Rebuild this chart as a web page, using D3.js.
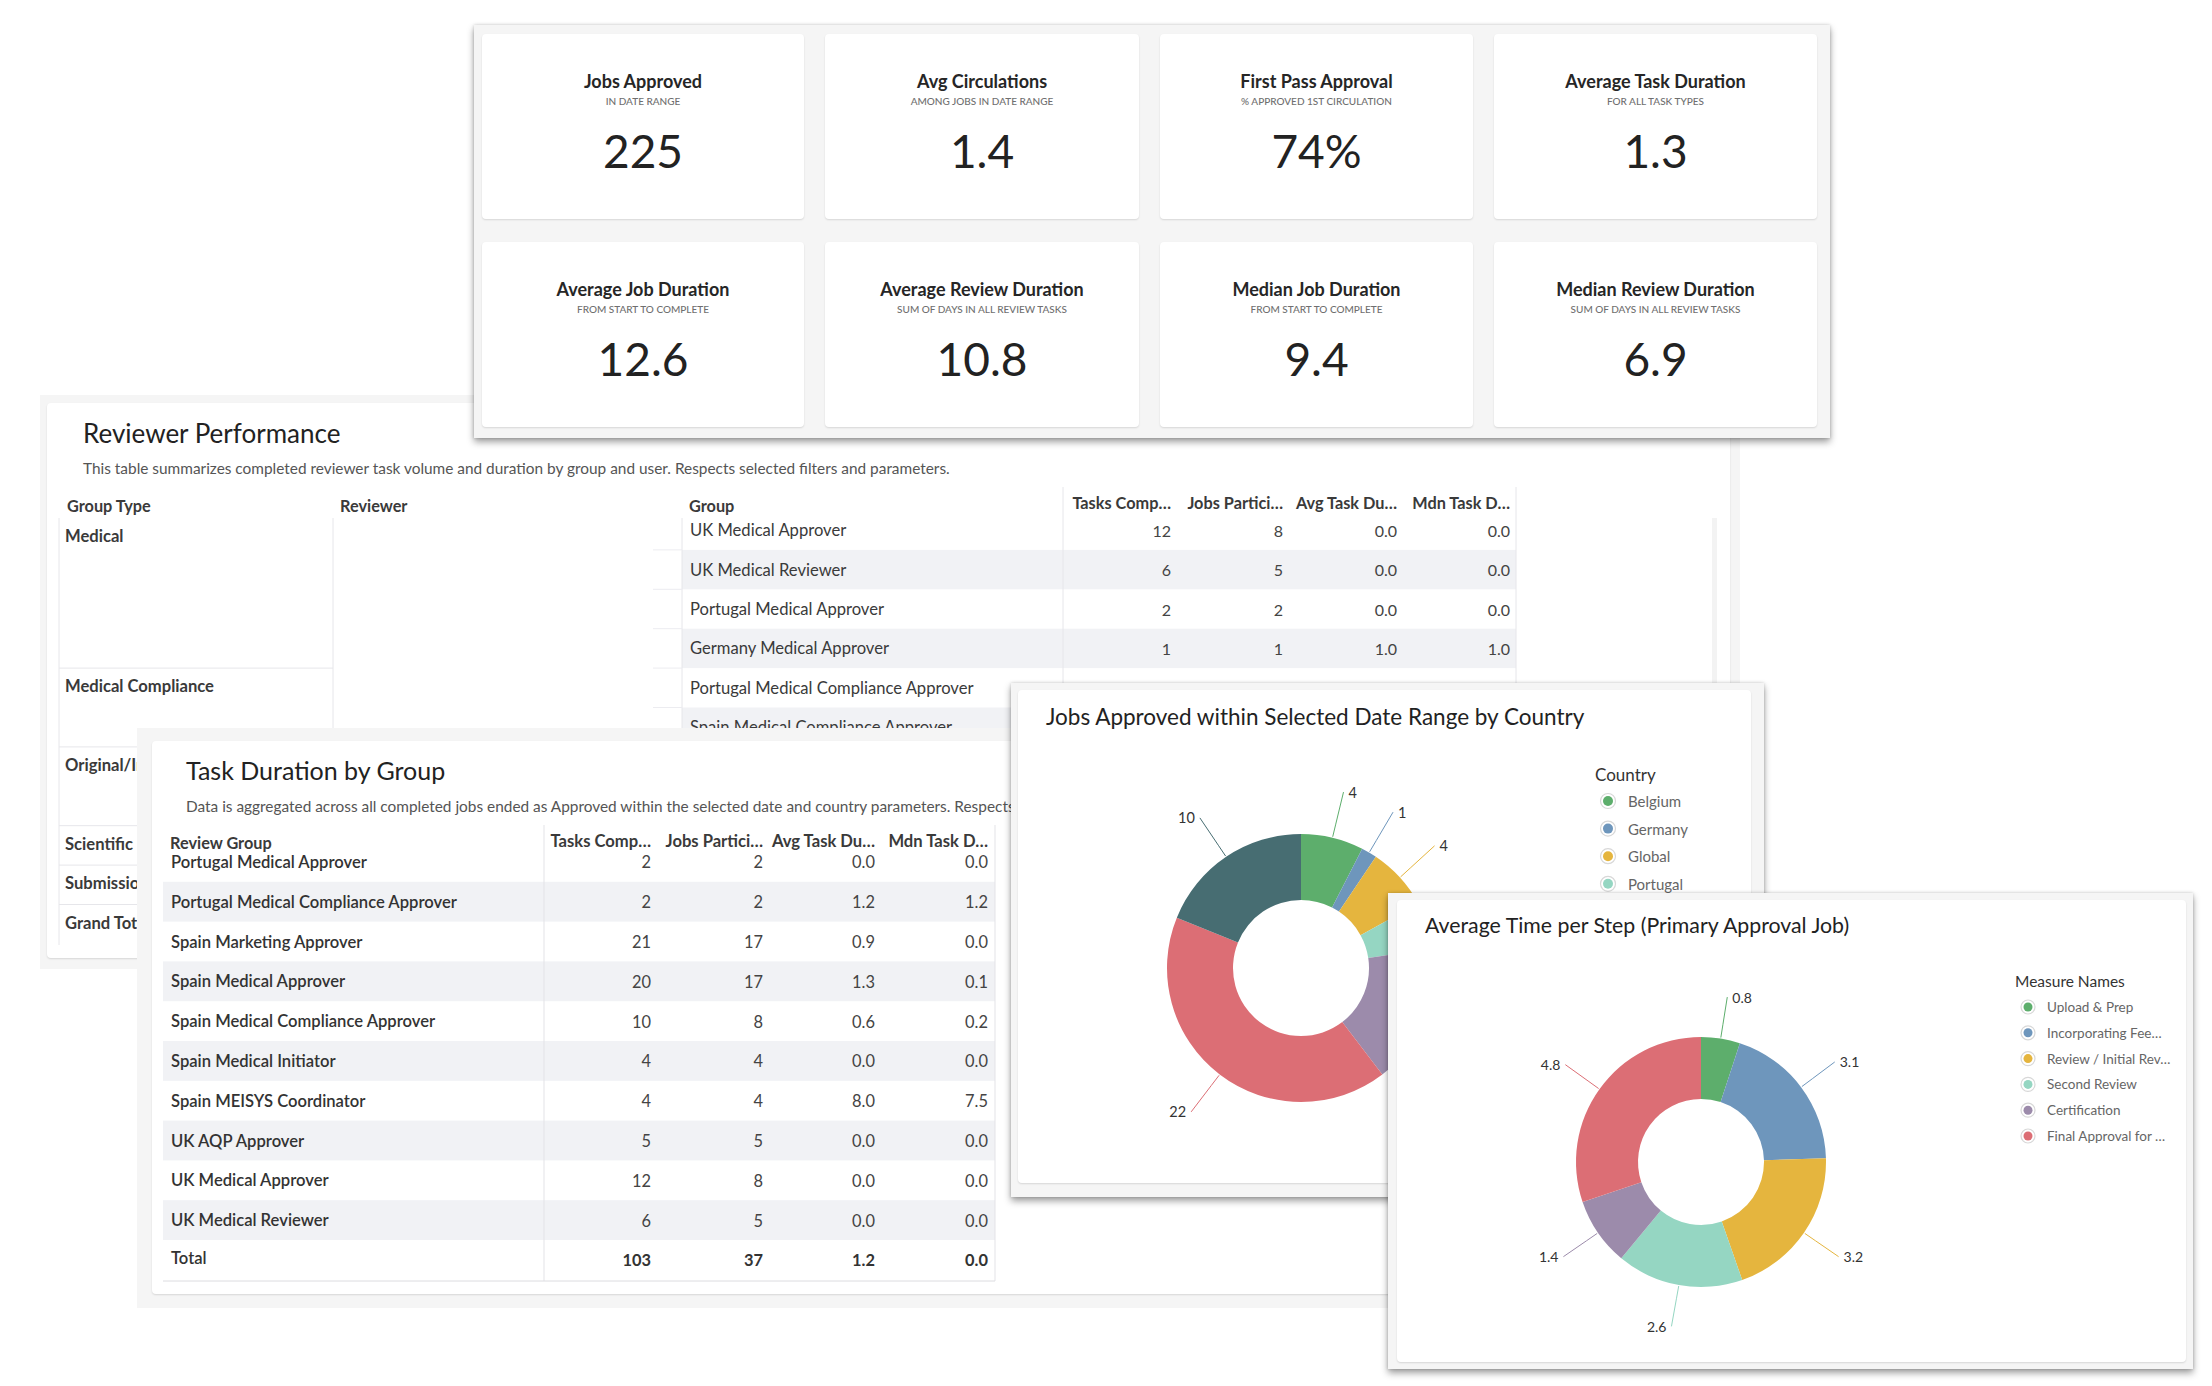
<!DOCTYPE html>
<html><head><meta charset="utf-8">
<script src="https://cdn.jsdelivr.net/npm/d3@7"></script>
<style>
body{margin:0;background:#fff;width:2212px;height:1386px;overflow:hidden;font-family:Lato,'Open Sans',sans-serif;}
.panel{position:absolute;background:#f5f5f5;overflow:hidden;}
.card{position:absolute;background:#fff;border-radius:4px;box-shadow:0 1px 2px rgba(0,0,0,0.13);}
svg.layer{position:absolute;}
svg text{font-family:Lato,'Open Sans',sans-serif;}
</style></head><body>
<script>
// ---------- DATA ----------
const kpiTitles = ["Jobs Approved","Avg Circulations","First Pass Approval","Average Task Duration","Average Job Duration","Average Review Duration","Median Job Duration","Median Review Duration"];
const kpiSubtitles = ["IN DATE RANGE","AMONG JOBS IN DATE RANGE","% APPROVED 1ST CIRCULATION","FOR ALL TASK TYPES","FROM START TO COMPLETE","SUM OF DAYS IN ALL REVIEW TASKS","FROM START TO COMPLETE","SUM OF DAYS IN ALL REVIEW TASKS"];
const kpiValues = [225, 1.4, 0.74, 1.3, 12.6, 10.8, 9.4, 6.9];
const kpiFormats = ["d", ".1f", ".0%", ".1f", ".1f", ".1f", ".1f", ".1f"];

const rpTitle = "Reviewer Performance";
const rpSubtitle = "This table summarizes completed reviewer task volume and duration by group and user. Respects selected filters and parameters.";
const rpDimHeaders = ["Group Type", "Reviewer", "Group"];
const measureHeaders = ["Tasks Comp…", "Jobs Partici…", "Avg Task Du…", "Mdn Task D…"];
const rpGroupTypes = ["Medical", "Medical Compliance", "Original/Internal", "Scientific", "Submission", "Grand Total"];
const rpGroupTypeRows = [4, 2, 2, 1, 1, 1];
const rpGroups = ["UK Medical Approver", "UK Medical Reviewer", "Portugal Medical Approver", "Germany Medical Approver", "Portugal Medical Compliance Approver", "Spain Medical Compliance Approver"];
const rpTasks = [12, 6, 2, 1, 2, 10];
const rpJobs = [8, 5, 2, 1, 2, 8];
const rpAvg = [0.0, 0.0, 0.0, 1.0, 1.2, 0.6];
const rpMdn = [0.0, 0.0, 0.0, 1.0, 1.2, 0.2];

const tdTitle = "Task Duration by Group";
const tdSubtitle = "Data is aggregated across all completed jobs ended as Approved within the selected date and country parameters. Respects";
const tdGroups = ["Portugal Medical Approver", "Portugal Medical Compliance Approver", "Spain Marketing Approver", "Spain Medical Approver", "Spain Medical Compliance Approver", "Spain Medical Initiator", "Spain MEISYS Coordinator", "UK AQP Approver", "UK Medical Approver", "UK Medical Reviewer"];
const tdTasks = [2, 2, 21, 20, 10, 4, 4, 5, 12, 6];
const tdJobs = [2, 2, 17, 17, 8, 4, 4, 5, 8, 5];
const tdAvg = [0.0, 1.2, 0.9, 1.3, 0.6, 0.0, 8.0, 0.0, 0.0, 0.0];
const tdMdn = [0.0, 1.2, 0.0, 0.1, 0.2, 0.0, 7.5, 0.0, 0.0, 0.0];
const tdTotals = [103, 37, 1.2, 0.0];

const jobsTitle = "Jobs Approved within Selected Date Range by Country";
const countries = ["Belgium", "Germany", "Global", "Portugal", "Romania", "Spain", "UK"];
const countryJobs = [4, 1, 4, 3, 9, 22, 10];

const stepTitle = "Average Time per Step (Primary Approval Job)";
const steps = ["Upload & Prep", "Incorporating Fee…", "Review / Initial Rev…", "Second Review", "Certification", "Final Approval for …"];
const stepDays = [0.8, 3.1, 3.2, 2.6, 1.4, 4.8];

const palette = ["#5dae6c", "#6e96bc", "#e5b53e", "#95d6c2", "#9c8bab", "#dc6e75", "#476d72"];

// ---------- LAYOUT ----------
const W = 2212, H = 1386;
const SHADOW = "0 4px 7px rgba(0,0,0,0.38), 0 0 3px rgba(0,0,0,0.18)";
const P_RP = [40, 395, 1740, 969], P_KPI = [474, 25, 1830, 438], P_TD = [137, 728, 1420, 1308],
      P_JOBS = [1011, 683, 1764, 1197], P_AVG = [1388, 893, 2193, 1369];
const inside = (x, y, r) => x >= r[0] && x <= r[2] && y >= r[1] && y <= r[3];
const covered = (x, y, list) => list.some(r => inside(x, y, r));

function panel(rect, cards, shadow) {
  const [x0, y0, x1, y1] = rect;
  const p = d3.select("body").append("div").attr("class", "panel")
    .style("left", x0 + "px").style("top", y0 + "px")
    .style("width", (x1 - x0) + "px").style("height", (y1 - y0) + "px")
    .style("box-shadow", shadow || "none");
  cards.forEach(c => {
    p.append("div").attr("class", "card")
      .style("left", (c[0] - x0) + "px").style("top", (c[1] - y0) + "px")
      .style("width", (c[2] - c[0]) + "px").style("height", (c[3] - c[1]) + "px");
  });
  return p.append("svg").attr("class", "layer").attr("width", W).attr("height", H)
    .style("left", (-x0) + "px").style("top", (-y0) + "px");
}
function txt(svg, x, y, s, size, opts = {}) {
  return svg.append("text").attr("x", x).attr("y", y).text(s)
    .attr("font-size", size).attr("fill", opts.fill || "#333")
    .attr("font-weight", opts.weight || 400)
    .attr("text-anchor", opts.anchor || "start")
    .attr("dominant-baseline", opts.baseline || "auto");
}
const f1 = d3.format(".1f");

// ---------- REVIEWER PERFORMANCE (back) ----------
{
  const svg = panel(P_RP, [[47, 403, 1730, 958]]);
  txt(svg, 83, 443, rpTitle, 26, {fill: "#222"});
  txt(svg, 83, 474, rpSubtitle, 15.4, {fill: "#555"});
  const dimX = [67, 340, 689];
  rpDimHeaders.forEach((h, i) => txt(svg, dimX[i], 512, h, 16.3, {weight: 700, fill: "#3a3a3a"}));
  const mx = [1171, 1283, 1397, 1510];
  measureHeaders.forEach((h, i) => txt(svg, mx[i], 509, h, 16.3, {weight: 700, fill: "#3a3a3a", anchor: "end"}));

  const y = d3.scaleBand().domain(d3.range(11)).range([510.5, 510.5 + 39.4 * 11]);
  svg.selectAll("rect.band").data(rpGroups).join("rect")
    .attr("x", 682).attr("width", 1516 - 682)
    .attr("y", (d, i) => y(i)).attr("height", y.bandwidth())
    .attr("fill", (d, i) => i % 2 ? "#f1f2f5" : "none");
  const line = (x1, y1, x2, y2, c) => svg.append("line").attr("x1", x1).attr("y1", y1).attr("x2", x2).attr("y2", y2).attr("stroke", c || "#e6e6ea");
  line(1063, 487, 1063, 960); line(1516, 487, 1516, 960); line(682, 518, 682, 960);
  line(333, 518, 333, 945); line(59, 518, 59, 945);
  svg.selectAll("line.tick").data(d3.range(1, 6)).join("line")
    .attr("x1", 653).attr("x2", 682).attr("y1", i => y(i)).attr("y2", i => y(i)).attr("stroke", "#ececf0");
  svg.append("rect").attr("x", 1712).attr("y", 518).attr("width", 5).attr("height", 440).attr("fill", "#f3f3f3");
  rpGroups.forEach((g, i) => {
    const cy = y(i) + y.bandwidth() / 2;
    txt(svg, 690, cy, g, 16.6, {baseline: "central", fill: "#3a3a3a"});
    [rpTasks[i], rpJobs[i], f1(rpAvg[i]), f1(rpMdn[i])].forEach((v, j) => {
      if (covered(mx[j] - 6, cy - 4, [P_JOBS])) return; // fully hidden under the chart panel above
      txt(svg, mx[j], cy, v, 16, {baseline: "central", anchor: "end", fill: "#444"});
    });
  });
  let row = 0;
  rpGroupTypes.forEach((t, i) => {
    const top = i === 0 ? 518 : y(row);
    row += rpGroupTypeRows[i];
    const bottom = y(row);
    line(59, bottom, 333, bottom);
    txt(svg, 65, top + 18, t, 16.6, {baseline: "central", weight: 700, fill: "#3a3a3a"});
  });
}

// ---------- KPI PANEL ----------
{
  const cardL = [482, 825, 1160, 1494], cardR = [804, 1139, 1473, 1817];
  const rowT = [34, 242], rowB = [219, 427];
  const cards = kpiTitles.map((t, i) => [cardL[i % 4], rowT[Math.floor(i / 4)], cardR[i % 4], rowB[Math.floor(i / 4)]]);
  const svg = panel(P_KPI, cards, SHADOW);
  kpiTitles.forEach((t, i) => {
    const c = cards[i], cx = (c[0] + c[2]) / 2;
    txt(svg, cx, c[1] + 54, t, 18, {weight: 700, fill: "#262626", anchor: "middle"});
    txt(svg, cx, c[1] + 71, kpiSubtitles[i], 10, {fill: "#6f6f6f", anchor: "middle", weight: 500});
    txt(svg, cx, c[1] + 134, d3.format(kpiFormats[i])(kpiValues[i]), 46, {fill: "#222", anchor: "middle"});
  });
}

// ---------- TASK DURATION BY GROUP ----------
{
  const svg = panel(P_TD, [[152, 741, 1412, 1294]]);
  txt(svg, 186, 780, tdTitle, 25, {fill: "#222"});
  txt(svg, 186, 812, tdSubtitle, 15.4, {fill: "#555"});
  txt(svg, 170, 849, "Review Group", 16.3, {weight: 700, fill: "#3a3a3a"});
  const mx = [651, 763, 875, 988];
  measureHeaders.forEach((h, i) => txt(svg, mx[i], 847, h, 16.6, {weight: 700, fill: "#3a3a3a", anchor: "end"}));
  const rows = tdGroups.concat(["Total"]);
  const y = d3.scaleBand().domain(rows).range([842, 842 + 39.8 * 11]);
  svg.selectAll("rect.band").data(rows).join("rect")
    .attr("x", 163).attr("width", 995 - 163)
    .attr("y", d => y(d)).attr("height", y.bandwidth())
    .attr("fill", (d, i) => i % 2 ? "#f1f2f5" : "none");
  svg.append("line").attr("x1", 544).attr("x2", 544).attr("y1", 825).attr("y2", 1281).attr("stroke", "#e3e3e7");
  svg.append("line").attr("x1", 995).attr("x2", 995).attr("y1", 825).attr("y2", 1281).attr("stroke", "#e3e3e7");
  svg.append("line").attr("x1", 163).attr("x2", 995).attr("y1", 1281).attr("y2", 1281).attr("stroke", "#dcdce0");
  tdGroups.forEach((g, i) => {
    const cy = y(g) + y.bandwidth() / 2;
    txt(svg, 171, cy, g, 16.6, {baseline: "central", weight: 600, fill: "#333"});
    [tdTasks[i], tdJobs[i], f1(tdAvg[i]), f1(tdMdn[i])].forEach((v, j) =>
      txt(svg, mx[j], cy, v, 16.4, {baseline: "central", anchor: "end", fill: "#444"}));
  });
  const ty = y("Total") + y.bandwidth() / 2;
  txt(svg, 171, ty - 2, "Total", 16.6, {baseline: "central", weight: 600, fill: "#333"});
  [tdTotals[0], tdTotals[1], f1(tdTotals[2]), f1(tdTotals[3])].forEach((v, j) =>
    txt(svg, mx[j], ty, v, 16.4, {baseline: "central", anchor: "end", weight: 700, fill: "#333"}));
}

// ---------- DONUT + LEGEND HELPERS ----------
function donut(svg, cx, cy, rIn, rOut, rEnd, values, fmt, fs, coverList) {
  const pie = d3.pie().sort(null).value(d => d)(values);
  const arc = d3.arc().innerRadius(rIn).outerRadius(rOut);
  const g = svg.append("g").attr("transform", `translate(${cx},${cy})`);
  g.selectAll("path").data(pie).join("path").attr("d", arc).attr("fill", (d, i) => palette[i]);
  const pt = (a, r) => [r * Math.sin(a), -r * Math.cos(a)];
  const mid = d => (d.startAngle + d.endAngle) / 2;
  g.selectAll("polyline").data(pie).join("polyline")
    .attr("points", d => [pt(mid(d), rOut + 1), pt(mid(d), rOut + 14), pt(mid(d), rEnd)].map(p => p.join(",")).join(" "))
    .attr("fill", "none").attr("stroke", (d, i) => palette[i]).attr("stroke-width", 1);
  const visible = pie.filter(d => { const p = pt(mid(d), rEnd); return !covered(cx + p[0], cy + p[1], coverList); });
  g.selectAll("text").data(visible).join("text")
    .attr("x", d => pt(mid(d), rEnd)[0] + (Math.sin(mid(d)) >= 0 ? 5 : -5))
    .attr("y", d => pt(mid(d), rEnd)[1])
    .attr("text-anchor", d => Math.sin(mid(d)) >= 0 ? "start" : "end")
    .attr("dominant-baseline", "central")
    .attr("font-size", fs).attr("fill", "#333")
    .text(d => fmt(d.data));
}
function legend(svg, x, y, title, names, step, tfs, ifs, r, coverList) {
  txt(svg, x, y, title, tfs, {fill: "#333"});
  const shown = names.map((n, i) => ({n, i, cy: y + 20 + i * step})).filter(d => !covered(x, d.cy - 6, coverList));
  const items = svg.append("g").selectAll("g").data(shown).join("g")
    .attr("transform", d => `translate(${x + 13},${d.cy})`);
  items.append("circle").attr("r", r + 2.5).attr("fill", "#fff").attr("stroke", "#d8d8d8").attr("stroke-width", 1.2);
  items.append("circle").attr("r", r).attr("fill", d => palette[d.i]);
  items.append("text").attr("x", 20 + (r - 5) * 2).attr("dominant-baseline", "central")
    .attr("font-size", ifs).attr("fill", "#666").text(d => d.n);
}

// ---------- JOBS BY COUNTRY ----------
{
  const svg = panel(P_JOBS, [[1018, 690, 1751, 1183]], SHADOW);
  txt(svg, 1046, 725, jobsTitle, 22.5, {fill: "#222"});
  donut(svg, 1301, 968, 68, 134, 181, countryJobs, d3.format("d"), 14.5, [P_AVG]);
  legend(svg, 1595, 781, "Country", countries, 27.6, 17, 15, 5, [P_AVG]);
}

// ---------- AVERAGE TIME PER STEP ----------
{
  const svg = panel(P_AVG, [[1397, 900, 2186, 1362]], SHADOW);
  txt(svg, 1425, 933, stepTitle, 21.3, {fill: "#222"});
  donut(svg, 1701, 1162, 63, 125, 167, stepDays, d3.format(".1f"), 14, []);
  legend(svg, 2015, 987, "Measure Names", steps, 25.8, 15.5, 13.5, 4.5, []);
}
</script>
</body></html>
